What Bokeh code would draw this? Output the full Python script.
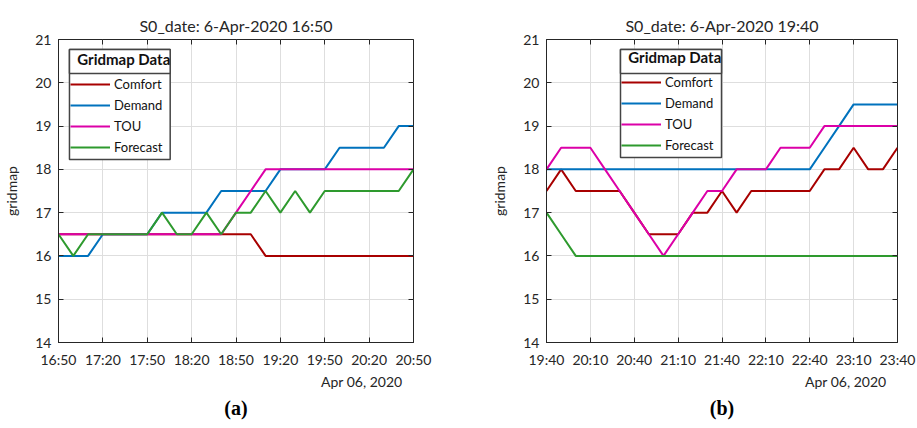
from datetime import datetime, timedelta

from bokeh.embed import file_html
from bokeh.layouts import row
from bokeh.models import (BoxAnnotation, CustomJSTickFormatter, DatetimeTickFormatter,
                          FixedTicker, Legend, LegendItem, LinearAxis, Range1d, Title)
from bokeh.plotting import figure
from bokeh.resources import INLINE

# ---- data: gridmap setpoints every 10 minutes on 6 Apr 2020 ----
start_a = datetime(2020, 4, 6, 16, 50)
start_b = datetime(2020, 4, 6, 19, 40)
n_steps = 25
span_minutes = 240

comfort_a = [16.5] * 14 + [16] * 11
demand_a = [16, 16, 16, 16.5, 16.5, 16.5, 16.5, 17, 17, 17, 17, 17.5, 17.5,
            17.5, 17.5, 18, 18, 18, 18, 18.5, 18.5, 18.5, 18.5, 19, 19]
tou_a = [16.5] * 12 + [17, 17.5] + [18] * 11
forecast_a = [16.5, 16, 16.5, 16.5, 16.5, 16.5, 16.5, 17, 16.5, 16.5, 17, 16.5,
              17, 17, 17.5, 17, 17.5, 17, 17.5, 17.5, 17.5, 17.5, 17.5, 17.5, 18]

comfort_b = [17.5, 18, 17.5, 17.5, 17.5, 17.5, 17, 16.5, 16.5, 16.5, 17, 17,
             17.5, 17, 17.5, 17.5, 17.5, 17.5, 17.5, 18, 18, 18.5, 18, 18, 18.5]
demand_b = [18] * 19 + [18.5, 19, 19.5, 19.5, 19.5, 19.5]
tou_b = [18, 18.5, 18.5, 18.5, 18, 17.5, 17, 16.5, 16, 16.5, 17, 17.5, 17.5,
         18, 18, 18, 18.5, 18.5, 18.5, 19, 19, 19, 19, 19, 19]
forecast_b = [17, 16.5] + [16] * 23

series_names = ["Comfort", "Demand", "TOU", "Forecast"]
series_colors = ["#A80000", "#0072BD", "#DC00A8", "#2E9A2E"]

y_ticks = [14, 15, 16, 17, 18, 19, 20, 21]
y_lo, y_hi = 14, 21

FONT = "Lato"
TEXT = "#262626"
EPOCH = datetime(1970, 1, 1)
BORDER_TOP, BORDER_BOTTOM = 39, 86   # shared by both panels of the row


def to_ms(t):
    return (t - EPOCH).total_seconds() * 1000


def make_panel(start, series, title, tag, width, left, right, legend_xy, box_rows):
    times = [start + timedelta(minutes=10 * i) for i in range(n_steps)]
    frame_w = width - left - right
    frame_h = 428 - BORDER_TOP - BORDER_BOTTOM
    p = figure(width=width, height=428, x_axis_type="datetime",
               output_backend="svg", toolbar_location=None,
               min_border_left=left, min_border_right=right,
               min_border_top=BORDER_TOP, min_border_bottom=BORDER_BOTTOM,
               x_range=Range1d(times[0], times[-1]), y_range=Range1d(y_lo, y_hi))
    p.background_fill_color = "white"
    p.border_fill_color = "white"
    p.outline_line_color = "#262626"
    p.outline_line_width = 1

    # title
    p.title.text = title
    p.title.align = "center"
    p.title.text_font = FONT
    p.title.text_font_size = "16px"
    p.title.text_font_style = "normal"
    p.title.text_color = TEXT
    p.title.standoff = 10

    # ticks every 30 minutes
    tick_ms = [to_ms(start + timedelta(minutes=30 * k)) for k in range(9)]
    p.xaxis.ticker = FixedTicker(ticks=tick_ms)
    p.xaxis.formatter = DatetimeTickFormatter(minutes="%H:%M", hours="%H:%M",
                                              hourmin="%H:%M", days="%H:%M")
    p.yaxis.ticker = FixedTicker(ticks=y_ticks)
    p.yaxis.axis_label = "gridmap"
    p.yaxis.axis_label_standoff = 12

    for ax in p.axis:
        ax.axis_line_color = "#262626"
        ax.major_tick_line_color = "#262626"
        ax.major_tick_in = 5
        ax.major_tick_out = 0
        ax.minor_tick_line_color = None
        ax.major_label_text_font = FONT
        ax.major_label_text_font_size = "14px"
        ax.major_label_text_color = TEXT
        ax.axis_label_text_font = FONT
        ax.axis_label_text_font_size = "14px"
        ax.axis_label_text_font_style = "normal"
        ax.axis_label_text_color = TEXT
        ax.major_label_standoff = 7
    p.xaxis.major_label_standoff = 8

    # box on: unlabeled ticks mirrored on the top and right edges
    blank = CustomJSTickFormatter(code="return ''")
    top_ax = LinearAxis(ticker=FixedTicker(ticks=tick_ms), formatter=blank,
                        fixed_location=y_hi)
    right_ax = LinearAxis(ticker=FixedTicker(ticks=y_ticks), formatter=blank,
                          fixed_location=to_ms(times[-1]))
    for ax in (top_ax, right_ax):
        ax.axis_line_color = "#262626"
        ax.major_tick_line_color = "#262626"
        ax.major_tick_in = 5
        ax.major_tick_out = 0
        ax.minor_tick_line_color = None
        ax.major_label_text_font_size = "1px"
        ax.major_label_standoff = 0
    p.add_layout(top_ax, "above")
    p.add_layout(right_ax, "right")

    p.grid.grid_line_color = "#DEDEDE"
    p.grid.grid_line_width = 1

    # legend frame: white cell with a separate heading row (frame pixels -> data)
    lx, ly = legend_xy
    box_bottom, box_top = box_rows

    def px_to_x(px):
        return to_ms(start) + px / frame_w * span_minutes * 60000

    def px_to_y(py):
        return y_lo + py / frame_h * (y_hi - y_lo)

    for cell_bottom in (box_bottom, box_top - 24):
        p.add_layout(BoxAnnotation(left=px_to_x(lx), right=px_to_x(lx + 101),
                                   top=px_to_y(box_top), bottom=px_to_y(cell_bottom),
                                   fill_color="white", fill_alpha=1.0,
                                   line_color="#444444", line_width=1.5, line_alpha=1.0))

    items = []
    for name, color, vals in zip(series_names, series_colors, series):
        r = p.line(times, vals, line_color=color, line_width=2)
        items.append(LegendItem(label=name, renderers=[r]))

    legend = Legend(items=items, location=(lx + 1, ly), orientation="vertical",
                    title="  Gridmap Data", title_text_font=FONT,
                    title_text_font_size="15px", title_text_font_style="bold",
                    title_text_color="#111111", title_standoff=6,
                    label_text_font=FONT, label_text_font_size="13px",
                    label_text_color="#111111", label_height=20, glyph_height=20,
                    glyph_width=40, label_standoff=4, spacing=1, padding=3,
                    margin=0, border_line_color=None,
                    background_fill_alpha=0.0)
    p.add_layout(legend, "center")

    # date stamp and panel tag under the time axis
    p.add_layout(Title(text="Apr 06, 2020", align="right", offset=11,
                       text_font=FONT, text_font_size="14px",
                       text_font_style="normal", text_color=TEXT, standoff=0), "below")
    p.add_layout(Title(text=tag, align="center", offset=8,
                       text_font="Liberation Serif", text_font_size="20px",
                       text_font_style="bold", text_color="#000000", standoff=11), "below")
    return p


pa = make_panel(start_a, [comfort_a, demand_a, tou_a, forecast_a],
                "S0_date: 6-Apr-2020 16:50", "(a)", 458, 57, 45,
                (11, 185), (183, 293))
pb = make_panel(start_b, [comfort_b, demand_b, tou_b, forecast_b],
                "S0_date: 6-Apr-2020 19:40", "(b)", 459, 88, 20,
                (74, 187), (185, 293))

layout = row(pa, pb, spacing=0)
open("out.html", "w").write(file_html(layout, INLINE))
